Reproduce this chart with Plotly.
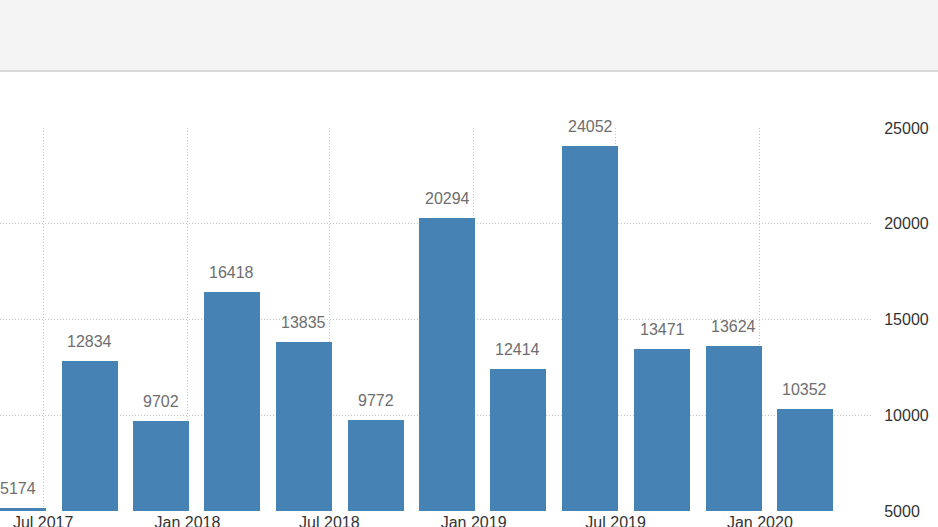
import plotly.graph_objects as go

# Data
quarters = ["2017-06-01", "2017-09-01", "2017-12-01", "2018-03-01", "2018-06-01",
            "2018-09-01", "2018-12-01", "2019-03-01", "2019-06-01", "2019-09-01",
            "2019-12-01", "2020-03-01"]
values = [5174, 12834, 9702, 16418, 13835, 9772, 20294, 12414, 24052, 13471, 13624, 10352]
tick_dates = ["2017-07-01", "2018-01-01", "2018-07-01", "2019-01-01", "2019-07-01", "2020-01-01"]
tick_labels = ["Jul 2017", "Jan 2018", "Jul 2018", "Jan 2019", "Jul 2019", "Jan 2020"]
y_ticks = [5000, 10000, 15000, 20000, 25000]

BAR = "#4682b4"
FONT = "Liberation Sans, Arial, sans-serif"
GRID = "#c4c4c4"
DAY = 86400000
BAR_W = 71.5 * DAY
SHIFT = -2.5 * DAY

fig = go.Figure()
fig.add_trace(go.Bar(
    x=quarters, y=values,
    marker=dict(color=BAR, line=dict(width=0)),
    width=BAR_W, offset=-BAR_W / 2 + SHIFT,
    hoverinfo="x+y",
))

for q, v in zip(quarters, values):
    fig.add_annotation(
        x=q, y=v, text=str(v), showarrow=False,
        yanchor="bottom", yshift=9, xshift=-2,
        font=dict(family=FONT, size=16, color="#6e6e6e"),
    )

# header band
fig.add_shape(type="rect", xref="paper", yref="paper",
              x0=-0.05, x1=1.2, y0=1.149, y1=1.4,
              fillcolor="#f4f4f4", line=dict(width=0), layer="below")
fig.add_shape(type="line", xref="paper", yref="paper",
              x0=-0.05, x1=1.2, y0=1.149, y1=1.149,
              line=dict(color="#d9d9d9", width=2))

fig.update_layout(
    width=938, height=527,
    margin=dict(l=0, r=66, t=128, b=16, autoexpand=False),
    paper_bgcolor="white", plot_bgcolor="white",
    showlegend=False, bargap=0,
    xaxis=dict(
        type="date",
        range=["2017-05-07", "2020-05-23"],
        tickvals=tick_dates, ticktext=tick_labels,
        showgrid=True, gridcolor=GRID, griddash="1px,2px", gridwidth=1,
        zeroline=False, showline=False, ticks="",
        tickfont=dict(family=FONT, size=16, color="#333333"),
        automargin=False,
    ),
    yaxis=dict(
        range=[5000, 25000], side="right",
        tickvals=y_ticks, ticktext=[str(t) for t in y_ticks],
        showgrid=True, gridcolor=GRID, griddash="1px,2px", gridwidth=1,
        zeroline=False, showline=False, ticks="outside", ticklen=8,
        tickcolor="rgba(0,0,0,0)",
        tickfont=dict(family=FONT, size=16, color="#333333"),
        automargin=False,
    ),
)

fig.write_html("out.html", config={"displayModeBar": False},
               post_script="document.body.style.margin='0';document.body.style.overflow='hidden';")
